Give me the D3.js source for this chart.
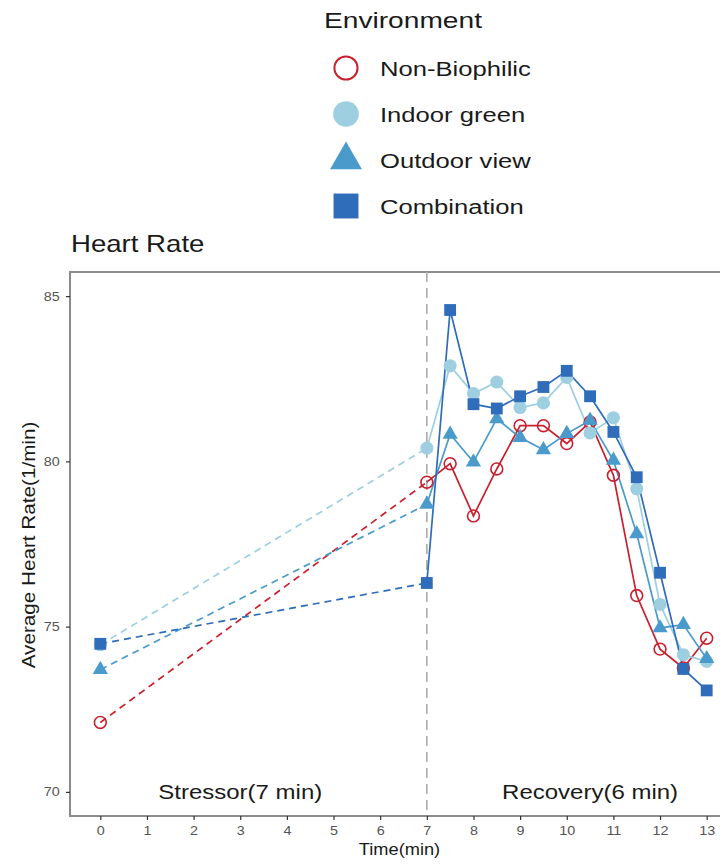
<!DOCTYPE html>
<html>
<head>
<meta charset="utf-8">
<script src="https://cdn.jsdelivr.net/npm/d3@7"></script>
<style>
  body { margin: 0; background: #fff; }
  text { font-family: "Liberation Sans", Arial, Helvetica, sans-serif; }
</style>
</head>
<body>
<div id="chart"></div>
<script>
const width = 720
const height = 864

// data
const time = [0, 7, 7.5, 8, 8.5, 9, 9.5, 10, 10.5, 11, 11.5, 12, 12.5, 13]
const nonBiophilic = [72.1, 79.37, 79.93, 78.35, 79.77, 81.08, 81.08, 80.54, 81.19, 79.58, 75.94, 74.32, 73.75, 74.65]
const indoorGreen = [74.45, 80.4, 82.89, 82.05, 82.4, 81.63, 81.77, 82.54, 80.86, 81.32, 79.17, 75.67, 74.15, 73.95]
const outdoorView = [73.7, 78.7, 80.82, 79.98, 81.29, 80.72, 80.35, 80.84, 81.24, 80.03, 77.81, 74.96, 75.06, 74.03]
const combination = [74.48, 76.32, 84.58, 81.73, 81.6, 81.97, 82.25, 82.74, 81.97, 80.89, 79.52, 76.63, 73.72, 73.07]

const groups = ["Non-Biophilic", "Indoor green", "Outdoor view", "Combination"]
const groupValues = [nonBiophilic, indoorGreen, outdoorView, combination]
const colors = ["#c9202e", "#9ecfe1", "#4a9bcc", "#2f6cb9"]
const shapes = [d3.symbolCircle, d3.symbolCircle, d3.symbolTriangle, d3.symbolSquare]

const xTicks = d3.range(0, 14)
const yTicks = [70, 75, 80, 85]
const stressEnd = 7

const SX = 1.2 // text in the figure is wider than Liberation Sans

const margin = {left: 70, top: 272, right: -17, bottom: 48}

const svg = d3.select("#chart").append("svg").attr("width", width).attr("height", height)

const x = d3.scaleLinear().domain([-0.65, 13.65]).range([margin.left, width - margin.right])
const y = d3.scaleLinear().domain([69.27, 85.73]).range([height - margin.bottom, margin.top])

function txt(g, px, py, s, size, anchor, sx) {
    return g.append("text")
        .attr("transform", `translate(${px},${py}) scale(${sx || SX},1)`)
        .attr("font-size", size)
        .attr("text-anchor", anchor || "start")
        .attr("fill", "#1a1a1a")
        .text(s)
}

// title
txt(svg, 71, 252, "Heart Rate", 23, "start", 1.2)

// panel border
svg.append("rect")
    .attr("x", x.range()[0]).attr("y", y.range()[1])
    .attr("width", x.range()[1] - x.range()[0])
    .attr("height", y.range()[0] - y.range()[1])
    .attr("fill", "none").attr("stroke", "#8a8a8a").attr("stroke-width", 2)

// axes
const xAxis = d3.axisBottom(x).tickValues(xTicks).tickSize(4).tickPadding(6)
const yAxis = d3.axisLeft(y).tickValues(yTicks).tickSize(4).tickPadding(5)

const gx = svg.append("g").attr("transform", `translate(0,${y.range()[0]})`).call(xAxis)
const gy = svg.append("g").attr("transform", `translate(${x.range()[0]},0)`).call(yAxis)
for (const g of [gx, gy]) {
    g.select(".domain").remove()
    g.selectAll(".tick line").attr("stroke", "#333").attr("stroke-width", 1.2)
    g.selectAll(".tick text").attr("fill", "#555").attr("font-size", 12.5)
        .attr("font-family", "'Liberation Sans', Arial, sans-serif")
        .attr("transform", "scale(1.15,1)")
}

// axis titles
txt(svg, (x.range()[0] + x.range()[1]) / 2 - 4, 855, "Time(min)", 16, "middle", 1.14)
svg.append("text")
    .attr("transform", `translate(35,545) rotate(-90) scale(1.15,1)`)
    .attr("font-size", 18).attr("text-anchor", "middle").attr("fill", "#1a1a1a")
    .text("Average Heart Rate(1/min)")

// stressor / recovery split
svg.append("line")
    .attr("x1", x(stressEnd)).attr("x2", x(stressEnd))
    .attr("y1", y.range()[1]).attr("y2", y.range()[0])
    .attr("stroke", "#ababab").attr("stroke-width", 1.6).attr("stroke-dasharray", "10,6")

txt(svg, x(3), y(70), "Stressor(7 min)", 20, "middle").attr("dy", "0.35em")
txt(svg, x(10.5), y(70), "Recovery(6 min)", 20, "middle").attr("dy", "0.35em")

// lines
const line = d3.line().x(d => x(d[0])).y(d => y(d[1]))
const lineGroup = svg.append("g")
groupValues.forEach((vals, i) => {
    const pts = time.map((t, j) => [t, vals[j]])
    lineGroup.append("path")
        .attr("d", line(pts.filter(p => p[0] <= stressEnd)))
        .attr("fill", "none").attr("stroke", colors[i]).attr("stroke-width", 1.7)
        .attr("stroke-dasharray", "7,5")
    lineGroup.append("path")
        .attr("d", line(pts.filter(p => p[0] >= stressEnd)))
        .attr("fill", "none").attr("stroke", colors[i]).attr("stroke-width", 1.7)
})

// points
const sizes = [110, 135, 100, 140]
const pointGroup = svg.append("g")
groupValues.forEach((vals, i) => {
    pointGroup.selectAll(null).data(time.map((t, j) => [t, vals[j]]))
        .join("path")
        .attr("transform", d => `translate(${x(d[0])},${y(d[1])})`)
        .attr("d", d3.symbol().type(shapes[i]).size(sizes[i]))
        .attr("fill", i == 0 ? "none" : colors[i])
        .attr("stroke", i == 0 ? colors[i] : "none")
        .attr("stroke-width", 1.6)
})

// legend
const legend = svg.append("g")
txt(legend, 324, 28, "Environment", 22, "start", 1.28)
const legendSizes = [420, 520, 440, 620]
groups.forEach((name, i) => {
    const cy = 68 + i * 46
    legend.append("path")
        .attr("transform", `translate(346,${cy})`)
        .attr("d", d3.symbol().type(shapes[i]).size(legendSizes[i]))
        .attr("fill", i == 0 ? "none" : colors[i])
        .attr("stroke", i == 0 ? colors[i] : "none")
        .attr("stroke-width", 2)
    txt(legend, 380, cy + 8, name, 21, "start", 1.22)
})
</script>
</body>
</html>
